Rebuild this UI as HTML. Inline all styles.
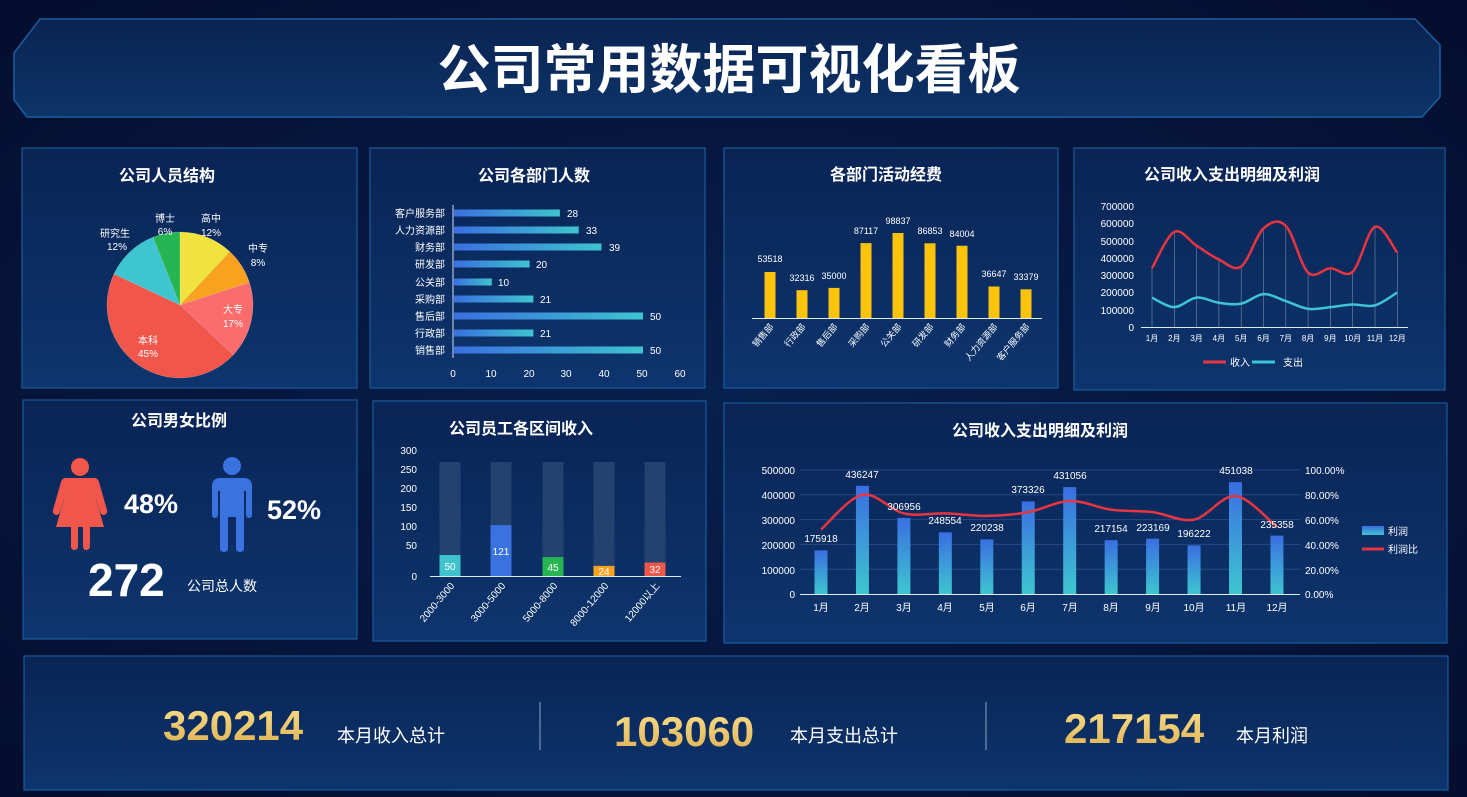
<!DOCTYPE html>
<html><head><meta charset="utf-8">
<style>
html,body{margin:0;padding:0;background:#051236;}
svg{display:block;}
text{font-family:"Liberation Sans","Noto Sans CJK SC",sans-serif;fill:#fff;}
.t{font-size:16px;font-weight:bold;text-anchor:middle;}
.s{font-size:10px;}
.e{text-anchor:end;}
.m{text-anchor:middle;}
</style></head>
<body>
<svg id="sv" width="1467" height="797" viewBox="0 0 1467 797" xmlns="http://www.w3.org/2000/svg">
<defs>
<radialGradient id="bg" cx="50%" cy="50%" r="75%"><stop offset="0" stop-color="#08204f"/><stop offset="1" stop-color="#040d2c"/></radialGradient>
<linearGradient id="pn" x1="0" y1="0" x2="0" y2="1"><stop offset="0" stop-color="#0a2455"/><stop offset="1" stop-color="#0d356d"/></linearGradient>
<linearGradient id="hb" x1="0" y1="0" x2="0" y2="1"><stop offset="0" stop-color="#0a2352"/><stop offset="1" stop-color="#0d3468"/></linearGradient>
<linearGradient id="hbar" x1="0" y1="0" x2="1" y2="0"><stop offset="0" stop-color="#3a6fe0"/><stop offset="1" stop-color="#3ec4cf"/></linearGradient>
<linearGradient id="vbar" x1="0" y1="0" x2="0" y2="1"><stop offset="0" stop-color="#3a6ee2"/><stop offset="1" stop-color="#3ec6cf"/></linearGradient>
<linearGradient id="gold" x1="0" y1="0" x2="0" y2="1"><stop offset="0" stop-color="#f9e08e"/><stop offset="1" stop-color="#e0b150"/></linearGradient>
</defs>
<rect width="1467" height="797" fill="url(#bg)"/>
<polygon points="40,19 1415,19 1440,45 1440,97 1422,117 27,117 14,100 14,53" fill="url(#hb)" stroke="#1d5e9e" stroke-width="1.5"/>
<text x="729" y="88" style="font-size:53px;font-weight:bold;text-anchor:middle">公司常用数据可视化看板</text>

<g fill="url(#pn)" stroke="#1a5a9c" stroke-width="1.2">
<rect x="22" y="148" width="335" height="240"/>
<rect x="370" y="148" width="335" height="240"/>
<rect x="724" y="148" width="334" height="240"/>
<rect x="1074" y="148" width="371" height="242"/>
<rect x="23" y="400" width="334" height="239"/>
<rect x="373" y="401" width="333" height="240"/>
<rect x="724" y="403" width="723" height="240"/>
<rect x="24" y="656" width="1424" height="134"/>
</g>

<text class="t" x="167" y="181">公司人员结构</text>
<text class="t" x="534" y="181">公司各部门人数</text>
<text class="t" x="886" y="180">各部门活动经费</text>
<text class="t" x="1232" y="180">公司收入支出明细及利润</text>
<text class="t" x="179" y="426">公司男女比例</text>
<text class="t" x="521" y="434">公司员工各区间收入</text>
<text class="t" x="1040" y="436">公司收入支出明细及利润</text>

<g id="pie"></g>
<g class="s">
<text class="m" x="211" y="222">高中</text><text class="m" x="211" y="236">12%</text>
<text class="m" x="258" y="252">中专</text><text class="m" x="258" y="266">8%</text>
<text class="m" x="233" y="313">大专</text><text class="m" x="233" y="327">17%</text>
<text class="m" x="148" y="344">本科</text><text class="m" x="148" y="357">45%</text>
<text class="m" x="115" y="237">研究生</text><text class="m" x="117" y="250">12%</text>
<text class="m" x="165" y="222">博士</text><text class="m" x="165" y="235">6%</text>
</g>

<g id="hb2"></g>
<line x1="453" y1="205" x2="453" y2="358" stroke="#cfe0f5" stroke-width="1"/>
<g class="s">
<text class="e" x="445" y="217">客户服务部</text><text x="567" y="217">28</text>
<text class="e" x="445" y="234">人力资源部</text><text x="586" y="234">33</text>
<text class="e" x="445" y="251">财务部</text><text x="609" y="251">39</text>
<text class="e" x="445" y="268">研发部</text><text x="536" y="268">20</text>
<text class="e" x="445" y="286">公关部</text><text x="498" y="286">10</text>
<text class="e" x="445" y="303">采购部</text><text x="540" y="303">21</text>
<text class="e" x="445" y="320">售后部</text><text x="650" y="320">50</text>
<text class="e" x="445" y="337">行政部</text><text x="540" y="337">21</text>
<text class="e" x="445" y="354">销售部</text><text x="650" y="354">50</text>
<text class="m" x="453" y="377">0</text><text class="m" x="491" y="377">10</text><text class="m" x="529" y="377">20</text><text class="m" x="566" y="377">30</text><text class="m" x="604" y="377">40</text><text class="m" x="642" y="377">50</text><text class="m" x="680" y="377">60</text>
</g>

<g id="yb"></g>
<line x1="752" y1="318.5" x2="1042" y2="318.5" stroke="#dde8f5" stroke-width="1"/>
<g class="s" style="font-size:9px">
<text class="m" x="770" y="262">53518</text>
<text class="m" x="802" y="281">32316</text>
<text class="m" x="834" y="279">35000</text>
<text class="m" x="866" y="234">87117</text>
<text class="m" x="898" y="224">98837</text>
<text class="m" x="930" y="234">86853</text>
<text class="m" x="962" y="237">84004</text>
<text class="m" x="994" y="277">36647</text>
<text class="m" x="1026" y="280">33379</text>
<text class="e" transform="translate(774,327) rotate(-50)">销售部</text>
<text class="e" transform="translate(806,327) rotate(-50)">行政部</text>
<text class="e" transform="translate(838,327) rotate(-50)">售后部</text>
<text class="e" transform="translate(870,327) rotate(-50)">采购部</text>
<text class="e" transform="translate(902,327) rotate(-50)">公关部</text>
<text class="e" transform="translate(934,327) rotate(-50)">研发部</text>
<text class="e" transform="translate(966,327) rotate(-50)">财务部</text>
<text class="e" transform="translate(998,327) rotate(-50)">人力资源部</text>
<text class="e" transform="translate(1030,327) rotate(-50)">客户服务部</text>
</g>

<g id="lc"></g>
<g class="s">
<text class="e" x="1134" y="210">700000</text><text class="e" x="1134" y="227">600000</text><text class="e" x="1134" y="245">500000</text><text class="e" x="1134" y="262">400000</text><text class="e" x="1134" y="279">300000</text><text class="e" x="1134" y="296">200000</text><text class="e" x="1134" y="314">100000</text><text class="e" x="1134" y="331">0</text>
</g>
<g style="font-size:8px" id="lcx"></g>
<line x1="1203" y1="362" x2="1226" y2="362" stroke="#e8353f" stroke-width="3"/>
<text class="s" x="1230" y="366">收入</text>
<line x1="1252" y1="362" x2="1275" y2="362" stroke="#3ec4d6" stroke-width="3"/>
<text class="s" x="1283" y="366">支出</text>

<g fill="#f0564a">
<circle cx="80" cy="467" r="9"/>
<path d="M66,478 H94 Q98,478 99,482 L107,510 Q108,514 104,515 Q101,515 100,512 L94,492 L104,527 H90 V546 Q90,550 86,550 Q83,550 83,546 V527 H78 V546 Q78,550 74,550 Q71,550 71,546 V527 H56 L66,492 L60,512 Q59,515 56,515 Q52,514 53,510 L61,482 Q62,478 66,478 Z"/>
</g>
<g fill="#3a72e0">
<circle cx="232" cy="466" r="9"/>
<path d="M220,478 H244 Q251,478 252,485 V514 Q252,518 249,518 Q246,518 246,514 V491 H244 V548 Q244,552 240,552 Q236,552 236,548 V517 H228 V548 Q228,552 224,552 Q220,552 220,548 V491 H218 V514 Q218,518 215,518 Q212,518 212,514 V485 Q213,478 220,478 Z"/>
</g>
<text x="124" y="513" style="font-size:27px;font-weight:bold">48%</text>
<text x="267" y="519" style="font-size:27px;font-weight:bold">52%</text>
<text x="88" y="596" style="font-size:46px;font-weight:bold">272</text>
<text x="187" y="591" style="font-size:14px">公司总人数</text>

<g id="ir"></g>
<g class="s">
<text class="e" x="417" y="454">300</text><text class="e" x="417" y="473">250</text><text class="e" x="417" y="492">200</text><text class="e" x="417" y="511">150</text><text class="e" x="417" y="530">100</text><text class="e" x="417" y="549">50</text><text class="e" x="417" y="580">0</text>
<text class="m" x="450" y="570">50</text><text class="m" x="501" y="555">121</text><text class="m" x="553" y="571">45</text><text class="m" x="604" y="575">24</text><text class="m" x="655" y="573">32</text>
<text class="e" transform="translate(455,586) rotate(-50)">2000-3000</text>
<text class="e" transform="translate(506,586) rotate(-50)">3000-5000</text>
<text class="e" transform="translate(558,586) rotate(-50)">5000-8000</text>
<text class="e" transform="translate(609,586) rotate(-50)">8000-12000</text>
<text class="e" transform="translate(660,586) rotate(-50)">12000以上</text>
</g>

<g id="cb"></g>
<g class="s">
<text class="e" x="795" y="474">500000</text><text class="e" x="795" y="499">400000</text><text class="e" x="795" y="524">300000</text><text class="e" x="795" y="549">200000</text><text class="e" x="795" y="574">100000</text><text class="e" x="795" y="598">0</text>
<text x="1305" y="474">100.00%</text><text x="1305" y="499">80.00%</text><text x="1305" y="524">60.00%</text><text x="1305" y="549">40.00%</text><text x="1305" y="574">20.00%</text><text x="1305" y="598">0.00%</text>
<text class="m" x="821" y="542">175918</text><text class="m" x="862" y="478">436247</text><text class="m" x="904" y="510">306956</text><text class="m" x="945" y="524">248554</text><text class="m" x="987" y="531">220238</text><text class="m" x="1028" y="493">373326</text><text class="m" x="1070" y="479">431056</text><text class="m" x="1111" y="532">217154</text><text class="m" x="1153" y="531">223169</text><text class="m" x="1194" y="537">196222</text><text class="m" x="1236" y="474">451038</text><text class="m" x="1277" y="528">235358</text>
<text class="m" x="821" y="611">1月</text><text class="m" x="862" y="611">2月</text><text class="m" x="904" y="611">3月</text><text class="m" x="945" y="611">4月</text><text class="m" x="987" y="611">5月</text><text class="m" x="1028" y="611">6月</text><text class="m" x="1070" y="611">7月</text><text class="m" x="1111" y="611">8月</text><text class="m" x="1153" y="611">9月</text><text class="m" x="1194" y="611">10月</text><text class="m" x="1236" y="611">11月</text><text class="m" x="1277" y="611">12月</text>
<text x="1388" y="535">利润</text><text x="1388" y="553">利润比</text>
</g>
<rect x="1362" y="526" width="22" height="9" fill="url(#vbar)"/>
<line x1="1362" y1="549" x2="1384" y2="549" stroke="#e8353f" stroke-width="3"/>

<g style="font-size:42px;font-weight:bold">
<text x="163" y="740" style="fill:url(#gold)">320214</text>
<text x="614" y="746" style="fill:url(#gold)">103060</text>
<text x="1064" y="743" style="fill:url(#gold)">217154</text>
</g>
<g style="font-size:18px">
<text x="337" y="742">本月收入总计</text>
<text x="790" y="742">本月支出总计</text>
<text x="1236" y="742">本月利润</text>
</g>
<line x1="540" y1="702" x2="540" y2="750" stroke="#5f7ea8" stroke-width="1.5"/>
<line x1="986" y1="702" x2="986" y2="750" stroke="#5f7ea8" stroke-width="1.5"/>
</svg>
<script>
var NS="http://www.w3.org/2000/svg";
function el(p,t,a){var e=document.createElementNS(NS,t);for(var k in a)e.setAttribute(k,a[k]);document.getElementById(p).appendChild(e);return e;}
function cr(pts){var d="M"+pts[0][0]+","+pts[0][1];for(var i=0;i<pts.length-1;i++){var p0=pts[i-1]||pts[i],p1=pts[i],p2=pts[i+1],p3=pts[i+2]||p2;var c1=[p1[0]+(p2[0]-p0[0])/6,p1[1]+(p2[1]-p0[1])/6],c2=[p2[0]-(p3[0]-p1[0])/6,p2[1]-(p3[1]-p1[1])/6];d+=" C"+c1+" "+c2+" "+p2;}return d;}
var cx=180,cy=305,r=73,vals=[12,8,17,45,12,6],cols=["#f0e33e","#f8a21f","#fb6d6d","#f0564a","#3dc5d0","#27b553"],a=-90;
vals.forEach(function(v,i){var a2=a+v*3.6,r1=a*Math.PI/180,r2=a2*Math.PI/180;el("pie","path",{d:"M"+cx+","+cy+" L"+(cx+r*Math.cos(r1))+","+(cy+r*Math.sin(r1))+" A"+r+","+r+" 0 "+(v>50?1:0)+" 1 "+(cx+r*Math.cos(r2))+","+(cy+r*Math.sin(r2))+" Z",fill:cols[i],stroke:"rgba(255,255,255,0.3)","stroke-width":0.5});a=a2;});
[28,33,39,20,10,21,50,21,50].forEach(function(v,i){var y=[213,230,247,264,282,299,316,333,350][i];el("hb2","rect",{x:454,y:y-3.5,width:v*3.78,height:7,fill:"url(#hbar)"});});
[53518,32316,35000,87117,98837,86853,84004,36647,33379].forEach(function(v,i){var h=v*85/98837;el("yb","rect",{x:764.5+i*32,y:318-h,width:11,height:h,fill:"#fbc30a"});});
var inc=[340,550,470,390,350,570,585,315,340,320,580,430],exp=[170,115,170,140,135,190,150,105,115,130,125,200];
function ly(v){return 327-v*0.1729;}
var P=[],Q=[];
for(var i=0;i<12;i++){var x=1152+i*22.3;P.push([x,ly(inc[i])]);Q.push([x,ly(exp[i])]);el("lc","line",{x1:x,y1:327,x2:x,y2:ly(inc[i]),stroke:"rgba(255,255,255,0.45)","stroke-width":0.6});
var t=el("lcx","text",{x:x,y:341,"text-anchor":"middle"});t.textContent=(i+1)+"月";}
el("lc","line",{x1:1141,y1:327.5,x2:1408,y2:327.5,stroke:"#dde8f5","stroke-width":1});
el("lc","path",{d:cr(P),fill:"none",stroke:"#e8353f","stroke-width":2.5});
el("lc","path",{d:cr(Q),fill:"none",stroke:"#3ec4d6","stroke-width":2.5});
[[50,"#3ec3cc"],[121,"#3a72e0"],[45,"#27b553"],[24,"#f8a21f"],[32,"#f0564a"]].forEach(function(b,i){var x=[450,501,553,604,655][i]-10.5;el("ir","rect",{x:x,y:462,width:21,height:114,fill:"#23426f"});var h=b[0]*0.42;el("ir","rect",{x:x,y:576-h,width:21,height:h,fill:b[1]});});
el("ir","line",{x1:430,y1:576.5,x2:681,y2:576.5,stroke:"#dde8f5","stroke-width":1});
for(var k=0;k<5;k++){el("cb","line",{x1:800,y1:470+k*24.8,x2:1300,y2:470+k*24.8,stroke:"rgba(80,130,200,0.35)","stroke-width":1});}
el("cb","line",{x1:800,y1:594.5,x2:1300,y2:594.5,stroke:"#dde8f5","stroke-width":1});
var pr=[175918,436247,306956,248554,220238,373326,431056,217154,223169,196222,451038,235358],rt=[52,80,65,65,63,66,75,68,66,60,79,54],R=[];
pr.forEach(function(v,i){var x=821+i*41.45,h=v*0.000248;el("cb","rect",{x:x-6.5,y:594-h,width:13,height:h,fill:"url(#vbar)"});R.push([x,594-rt[i]*1.24]);});
el("cb","path",{d:cr(R),fill:"none",stroke:"#e8353f","stroke-width":2.5});
</script>
</body></html>
